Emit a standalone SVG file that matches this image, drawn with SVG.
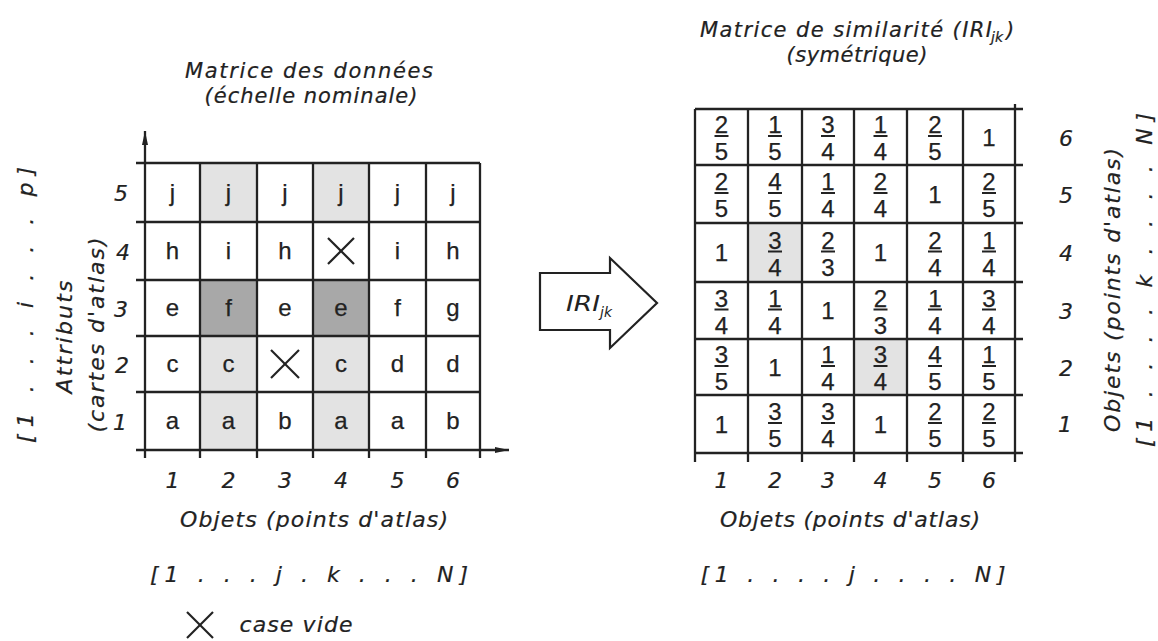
<svg xmlns="http://www.w3.org/2000/svg" width="1158" height="641" viewBox="0 0 1158 641">
<style>
.bg{fill:#ffffff}
.ln{stroke:#222;stroke-width:2.3;fill:none}
.lt{fill:#e3e3e3}
.dk{fill:#a8a8a8}
.c{font-family:"Liberation Sans",Arial,sans-serif;font-size:24px;text-anchor:middle;fill:#222;stroke:#222;stroke-width:0.25}
.lab{font-family:"DejaVu Sans","Liberation Sans",sans-serif;font-style:oblique;font-size:22px;text-anchor:middle;fill:#222;stroke:#222;stroke-width:0.2}
.ttl{font-family:"DejaVu Sans","Liberation Sans",sans-serif;font-style:oblique;font-size:21px;text-anchor:middle;fill:#222;stroke:#222;stroke-width:0.2}
.bar{stroke:#222;stroke-width:2}
.x{stroke:#222;stroke-width:2.2}
</style>
<defs>
<marker id="ah" viewBox="0 0 14 6" refX="14" refY="3" markerWidth="14" markerHeight="6" orient="auto" markerUnits="userSpaceOnUse">
<path d="M0,0 L14,3 L0,6 z" fill="#222"/>
</marker>
</defs>
<rect class="bg" x="0" y="0" width="1158" height="641"/>

<!-- LEFT: data matrix -->
<g id="data-matrix">
<text class="ttl" x="309" y="78" textLength="248" lengthAdjust="spacing">Matrice des données</text>
<text class="ttl" x="311" y="103" textLength="213" lengthAdjust="spacing">(échelle nominale)</text>
<rect class="lt" x="200" y="163" width="57" height="59"/>
<rect class="lt" x="313" y="163" width="56" height="59"/>
<rect class="dk" x="200" y="280" width="57" height="56"/>
<rect class="dk" x="313" y="280" width="56" height="56"/>
<rect class="lt" x="200" y="336" width="57" height="114"/>
<rect class="lt" x="313" y="336" width="56" height="114"/>
<g class="ln">
<line x1="136" y1="163" x2="480" y2="163"/>
<line x1="136" y1="222" x2="480" y2="222"/>
<line x1="136" y1="280" x2="480" y2="280"/>
<line x1="136" y1="336" x2="480" y2="336"/>
<line x1="136" y1="392" x2="480" y2="392"/>
<line x1="136" y1="450" x2="509" y2="450" marker-end="url(#ah)"/>
<line x1="145" y1="458" x2="145" y2="131" marker-end="url(#ah)"/>
<line x1="200" y1="163" x2="200" y2="458"/>
<line x1="257" y1="163" x2="257" y2="458"/>
<line x1="313" y1="163" x2="313" y2="458"/>
<line x1="369" y1="163" x2="369" y2="458"/>
<line x1="426" y1="163" x2="426" y2="458"/>
<line x1="480" y1="163" x2="480" y2="458"/>
</g>
<g class="c">
<text x="172.5" y="200.5">j</text><text x="228.5" y="200.5">j</text><text x="285" y="200.5">j</text><text x="341" y="200.5">j</text><text x="397.5" y="200.5">j</text><text x="453" y="200.5">j</text>
<text x="172.5" y="259">h</text><text x="228.5" y="259">i</text><text x="285" y="259">h</text><text x="397.5" y="259">i</text><text x="453" y="259">h</text>
<text x="172.5" y="316">e</text><text x="228.5" y="316">f</text><text x="285" y="316">e</text><text x="341" y="316">e</text><text x="397.5" y="316">f</text><text x="453" y="316">g</text>
<text x="172.5" y="372">c</text><text x="228.5" y="372">c</text><text x="341" y="372">c</text><text x="397.5" y="372">d</text><text x="453" y="372">d</text>
<text x="172.5" y="429">a</text><text x="228.5" y="429">a</text><text x="285" y="429">b</text><text x="341" y="429">a</text><text x="397.5" y="429">a</text><text x="453" y="429">b</text>
</g>
<g class="x">
<line x1="328" y1="238" x2="354" y2="264"/><line x1="354" y1="238" x2="328" y2="264"/>
<line x1="271" y1="350" x2="299" y2="378"/><line x1="299" y1="350" x2="271" y2="378"/>
</g>
<g class="lab">
<text x="121" y="201">5</text><text x="123" y="260">4</text><text x="121" y="317">3</text><text x="122" y="373">2</text><text x="120" y="430">1</text>
<text x="172.5" y="488">1</text><text x="228.5" y="488">2</text><text x="285" y="488">3</text><text x="341" y="488">4</text><text x="397.5" y="488">5</text><text x="453" y="488">6</text>
<text x="314" y="527" textLength="268" lengthAdjust="spacing">Objets  (points d'atlas)</text>
<text x="309" y="582" textLength="318" lengthAdjust="spacing">[1 . . . j . k . . . N]</text>
<text transform="translate(72,337) rotate(-90)" textLength="113" lengthAdjust="spacing">Attributs</text>
<text transform="translate(104,335) rotate(-90)" textLength="195" lengthAdjust="spacing">(cartes d'atlas)</text>
<text transform="translate(33,305) rotate(-90)" textLength="276" lengthAdjust="spacing">[1 . . . i . . . p]</text>
</g>
</g>

<!-- legend -->
<g id="legend">
<g class="x"><line x1="187" y1="612" x2="213" y2="638"/><line x1="213" y1="612" x2="187" y2="638"/></g>
<text class="lab" x="296" y="632" textLength="113" lengthAdjust="spacing">case vide</text>
</g>

<!-- connector: block arrow -->
<g id="connectors">
<polygon points="540,273 610,273 610,258 657,303 610,348 610,330 540,330" fill="#fff" stroke="#222" stroke-width="2.2" stroke-linejoin="miter"/>
<text font-family="DejaVu Sans, Liberation Sans, sans-serif" font-style="oblique" font-size="21" fill="#222" x="566" y="311" textLength="34" lengthAdjust="spacingAndGlyphs">IRI</text>
<text font-family="DejaVu Sans, Liberation Sans, sans-serif" font-style="oblique" font-size="14" fill="#222" x="600" y="317">jk</text>
</g>

<!-- RIGHT: similarity matrix -->
<g id="similarity-matrix">
<text class="ttl" x="846" y="37" textLength="292" lengthAdjust="spacing">Matrice de similarité (IRI</text>
<text class="ttl" x="991" y="42" style="font-size:14px;text-anchor:start">jk</text>
<text class="ttl" x="1006" y="37" style="text-anchor:start">)</text>
<text class="ttl" x="857" y="62" textLength="141" lengthAdjust="spacing">(symétrique)</text>
<rect class="lt" x="748" y="223" width="54" height="59"/>
<rect class="lt" x="854" y="339" width="53" height="56"/>
<g class="ln">
<line x1="695" y1="109" x2="1023" y2="109"/>
<line x1="695" y1="165" x2="1023" y2="165"/>
<line x1="695" y1="223" x2="1023" y2="223"/>
<line x1="695" y1="282" x2="1023" y2="282"/>
<line x1="695" y1="339" x2="1023" y2="339"/>
<line x1="695" y1="395" x2="1023" y2="395"/>
<line x1="695" y1="453" x2="1023" y2="453"/>
<line x1="695" y1="109" x2="695" y2="462"/>
<line x1="748" y1="109" x2="748" y2="462"/>
<line x1="802" y1="109" x2="802" y2="462"/>
<line x1="854" y1="109" x2="854" y2="462"/>
<line x1="907" y1="109" x2="907" y2="462"/>
<line x1="963" y1="109" x2="963" y2="462"/>
<line x1="1015" y1="104" x2="1015" y2="462"/>
</g>
<g class="c">
<!-- row 6 -->
<text x="721.5" y="133">2</text><text x="721.5" y="160">5</text>
<text x="775" y="133">1</text><text x="775" y="160">5</text>
<text x="828" y="133">3</text><text x="828" y="160">4</text>
<text x="880.5" y="133">1</text><text x="880.5" y="160">4</text>
<text x="935" y="133">2</text><text x="935" y="160">5</text>
<text x="989" y="145.5">1</text>
<!-- row 5 -->
<text x="721.5" y="190">2</text><text x="721.5" y="217">5</text>
<text x="775" y="190">4</text><text x="775" y="217">5</text>
<text x="828" y="190">1</text><text x="828" y="217">4</text>
<text x="880.5" y="190">2</text><text x="880.5" y="217">4</text>
<text x="935" y="202.5">1</text>
<text x="989" y="190">2</text><text x="989" y="217">5</text>
<!-- row 4 -->
<text x="721.5" y="261">1</text>
<text x="775" y="248.5">3</text><text x="775" y="275.5">4</text>
<text x="828" y="248.5">2</text><text x="828" y="275.5">3</text>
<text x="880.5" y="261">1</text>
<text x="935" y="248.5">2</text><text x="935" y="275.5">4</text>
<text x="989" y="248.5">1</text><text x="989" y="275.5">4</text>
<!-- row 3 -->
<text x="721.5" y="306.5">3</text><text x="721.5" y="333.5">4</text>
<text x="775" y="306.5">1</text><text x="775" y="333.5">4</text>
<text x="828" y="319">1</text>
<text x="880.5" y="306.5">2</text><text x="880.5" y="333.5">3</text>
<text x="935" y="306.5">1</text><text x="935" y="333.5">4</text>
<text x="989" y="306.5">3</text><text x="989" y="333.5">4</text>
<!-- row 2 -->
<text x="721.5" y="363">3</text><text x="721.5" y="390">5</text>
<text x="775" y="375.5">1</text>
<text x="828" y="363">1</text><text x="828" y="390">4</text>
<text x="880.5" y="363">3</text><text x="880.5" y="390">4</text>
<text x="935" y="363">4</text><text x="935" y="390">5</text>
<text x="989" y="363">1</text><text x="989" y="390">5</text>
<!-- row 1 -->
<text x="721.5" y="432.5">1</text>
<text x="775" y="420">3</text><text x="775" y="447">5</text>
<text x="828" y="420">3</text><text x="828" y="447">4</text>
<text x="880.5" y="432.5">1</text>
<text x="935" y="420">2</text><text x="935" y="447">5</text>
<text x="989" y="420">2</text><text x="989" y="447">5</text>
</g>
<g class="bar">
<line x1="714.5" y1="136" x2="728.5" y2="136"/><line x1="768" y1="136" x2="782" y2="136"/><line x1="821" y1="136" x2="835" y2="136"/><line x1="873.5" y1="136" x2="887.5" y2="136"/><line x1="928" y1="136" x2="942" y2="136"/>
<line x1="714.5" y1="193" x2="728.5" y2="193"/><line x1="768" y1="193" x2="782" y2="193"/><line x1="821" y1="193" x2="835" y2="193"/><line x1="873.5" y1="193" x2="887.5" y2="193"/><line x1="982" y1="193" x2="996" y2="193"/>
<line x1="768" y1="251.5" x2="782" y2="251.5"/><line x1="821" y1="251.5" x2="835" y2="251.5"/><line x1="928" y1="251.5" x2="942" y2="251.5"/><line x1="982" y1="251.5" x2="996" y2="251.5"/>
<line x1="714.5" y1="309.5" x2="728.5" y2="309.5"/><line x1="768" y1="309.5" x2="782" y2="309.5"/><line x1="873.5" y1="309.5" x2="887.5" y2="309.5"/><line x1="928" y1="309.5" x2="942" y2="309.5"/><line x1="982" y1="309.5" x2="996" y2="309.5"/>
<line x1="714.5" y1="366" x2="728.5" y2="366"/><line x1="821" y1="366" x2="835" y2="366"/><line x1="873.5" y1="366" x2="887.5" y2="366"/><line x1="928" y1="366" x2="942" y2="366"/><line x1="982" y1="366" x2="996" y2="366"/>
<line x1="768" y1="423" x2="782" y2="423"/><line x1="821" y1="423" x2="835" y2="423"/><line x1="928" y1="423" x2="942" y2="423"/><line x1="982" y1="423" x2="996" y2="423"/>
</g>
<g class="lab">
<text x="1066" y="146">6</text><text x="1066" y="203">5</text><text x="1066" y="261">4</text><text x="1066" y="319">3</text><text x="1066" y="376">2</text><text x="1065" y="432">1</text>
<text x="721.5" y="488">1</text><text x="775" y="488">2</text><text x="828" y="488">3</text><text x="880.5" y="488">4</text><text x="935" y="488">5</text><text x="989" y="488">6</text>
<text x="850" y="527" textLength="260" lengthAdjust="spacing">Objets  (points d'atlas)</text>
<text x="853" y="582" textLength="305" lengthAdjust="spacing">[1 . . . . j . . . . N]</text>
<text transform="translate(1120,290) rotate(-90)" textLength="284" lengthAdjust="spacing">Objets  (points d'atlas)</text>
<text transform="translate(1152,280) rotate(-90)" textLength="334" lengthAdjust="spacing">[1 . . . . k . . . . N]</text>
</g>
</g>
</svg>
